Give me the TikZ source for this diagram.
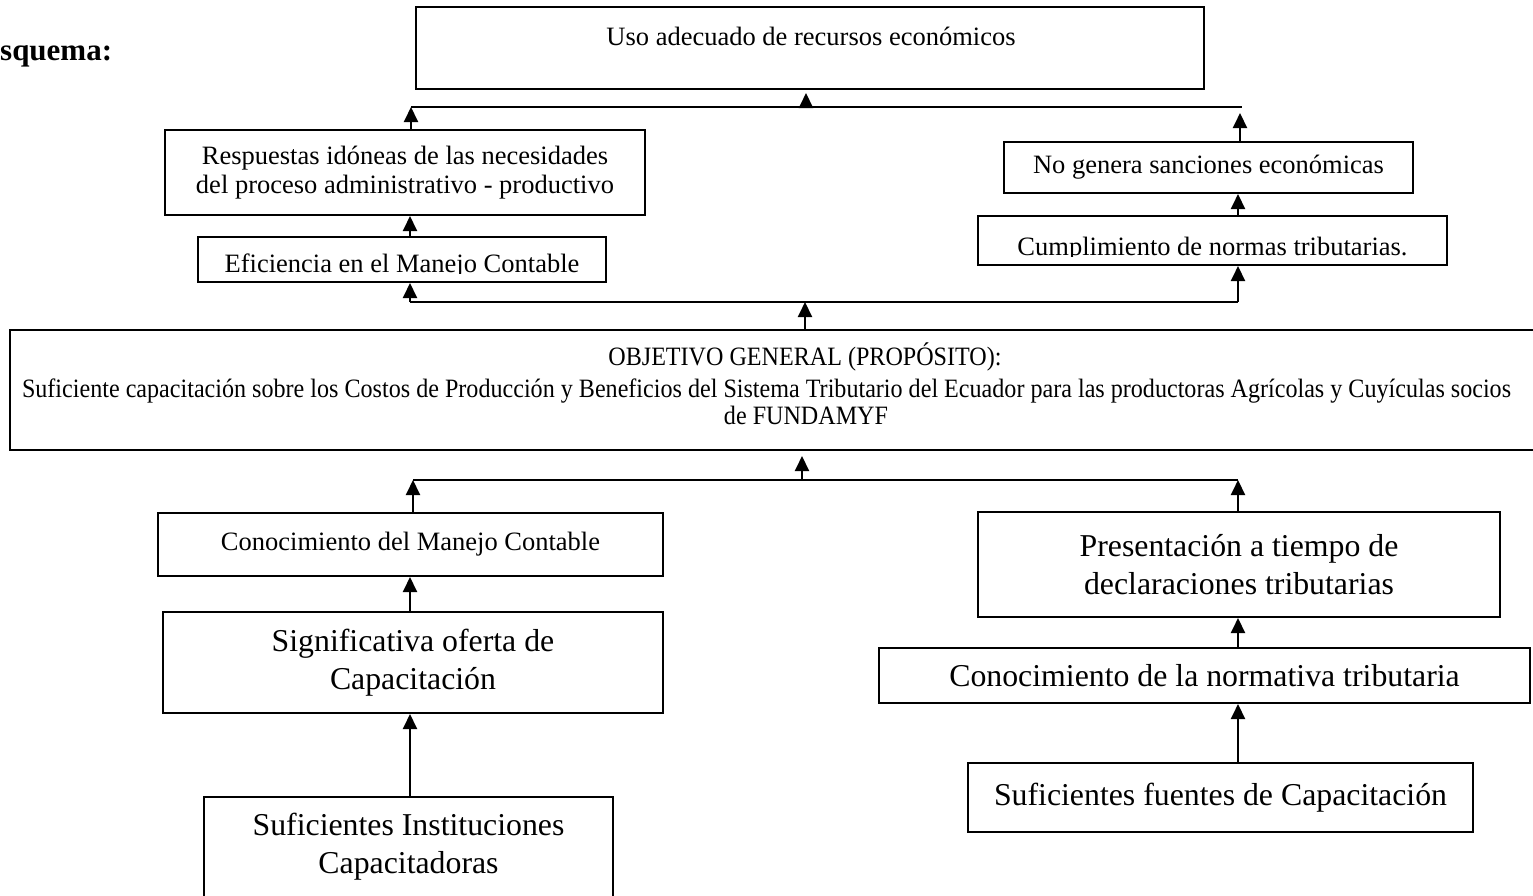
\documentclass[tikz,border=0pt]{standalone}
\usepackage{fontspec}
\usepackage{graphicx}
\setmainfont{Liberation Serif}
\usetikzlibrary{arrows.meta}
\newlength\objw
\newcommand\smallfnt{\fontsize{26.5pt}{29pt}\selectfont}
\newcommand\bigfnt{\fontsize{31.8pt}{38pt}\selectfont}
\newcommand\objline{Suficiente capacitación sobre los Costos de Producción y Beneficios del Sistema Tributario del Ecuador para las productoras Agrícolas y Cuyículas socios}
\tikzset{
  box/.style={draw, line width=2pt, inner sep=0pt, align=center},
  sbox/.style={box, font=\smallfnt},
  bbox/.style={box, font=\bigfnt},
  stxt/.style={inner sep=0pt, font=\smallfnt},
  arr/.style={line width=2pt, -{Triangle[length=15pt,width=14pt]}},
  conn/.style={line width=2pt},
}
\begin{document}
\settowidth{\objw}{\normalfont\smallfnt\objline}%
\pgfmathsetmacro\objf{1489/\objw}%
\begin{tikzpicture}[x=1pt,y=-1pt]
\useasboundingbox (0,0) rectangle (1533,895);
\clip (0,0) rectangle (1533,895);

\node[inner sep=0pt, anchor=base west, font=\fontsize{31pt}{35pt}\selectfont\bfseries] (esq) at (0,60) {squema:};

% top
\node[box, minimum width=788pt, minimum height=82pt] (uso) at (810,48) {};
\node[stxt, anchor=base] (usot) at (811,45) {Uso adecuado de recursos económicos};

\node[sbox, minimum width=480pt, minimum height=85pt] (resp) at (405,172.5) {Respuestas idóneas de las necesidades\\del proceso administrativo - productivo};
\node[sbox, minimum width=409pt, minimum height=51pt] (nosanc) at (1208.5,167.5) {No genera sanciones económicas};

\node[box, minimum width=408pt, minimum height=45pt,
  path picture={\clip (path picture bounding box.north west) rectangle ([yshift=9pt]path picture bounding box.south east);
    \node[stxt, anchor=base] at ([yshift=10pt]path picture bounding box.south) {Eficiencia en el Manejo Contable};}] (eff) at (402,259.5) {};
\node[box, minimum width=469pt, minimum height=49pt,
  path picture={\clip (path picture bounding box.north west) rectangle ([yshift=9pt]path picture bounding box.south east);
    \node[stxt, anchor=base] at ([yshift=10pt]path picture bounding box.south) {Cumplimiento de normas tributarias.};}] (cump) at (1212.5,240.5) {};

% objective
\node[box, minimum width=1550pt, minimum height=120pt] (obj) at (785,390) {};
\node[stxt, anchor=base] (objt1) at (805,365) {\scalebox{\objf}[1]{OBJETIVO GENERAL (PROPÓSITO):}};
\node[stxt, anchor=base] (objt2) at (766.5,397) {\scalebox{\objf}[1]{\objline}};
\node[stxt, anchor=base] (objt3) at (806,424) {\scalebox{\objf}[1]{de FUNDAMYF}};

% bottom
\node[sbox, minimum width=505pt, minimum height=63pt] (conoc) at (410.5,544.5) {Conocimiento del Manejo Contable};
\node[bbox, minimum width=500pt, minimum height=101pt] (sig) at (413,662.5) {Significativa oferta de\\Capacitación};
\node[bbox, minimum width=409pt, minimum height=100pt] (inst) at (408.5,847) {Suficientes Instituciones\\Capacitadoras};
\node[bbox, minimum width=522pt, minimum height=105pt] (pres) at (1239,564.5) {Presentación a tiempo de\\declaraciones tributarias};
\node[bbox, minimum width=651pt, minimum height=55pt] (normat) at (1204.5,675.5) {Conocimiento de la normativa tributaria};
\node[bbox, minimum width=505pt, minimum height=69pt] (fuentes) at (1220.5,797.5) {Suficientes fuentes de Capacitación};

% coordinates
\coordinate (xL) at (410,0);
\coordinate (xR) at (1238,0);
\coordinate (j1L) at (411,107);
\coordinate (j1C) at (806,107);
\coordinate (j1R) at (1242,107);
\coordinate (j1Rt) at (1240,113);
\coordinate (j2L) at (410,302);
\coordinate (j2C) at (805,302);
\coordinate (j2R) at (1238,302);
\coordinate (j3L) at (413,480);
\coordinate (j3C) at (802,480);
\coordinate (j3R) at (1238,480);

% top connectors
\draw[conn] (j1L) -- (j1R);
\draw[arr] (j1C) -- ([yshift=-3pt]uso.south -| j1C);
\draw[arr] (resp.north -| j1L) -- (j1L);
\draw[arr] (nosanc.north -| j1Rt) -- (j1Rt);
\draw[arr] (eff.north -| xL) -- (resp.south -| xL);
\draw[arr] (cump.north -| xR) -- (nosanc.south -| xR);

% middle connectors
\draw[conn] (j2L) -- (j2R);
\draw[arr] (j2L) -- (eff.south -| j2L);
\draw[arr] (j2R) -- (cump.south -| j2R);
\draw[arr] (obj.north -| j2C) -- (j2C);

% bottom connectors
\draw[conn] (j3L) -- (j3R);
\draw[arr] (j3C) -- ([yshift=-5pt]obj.south -| j3C);
\draw[arr] (conoc.north -| j3L) -- (j3L);
\draw[arr] (pres.north -| j3R) -- (j3R);
\draw[arr] (sig.north -| xL) -- (conoc.south -| xL);
\draw[arr] (inst.north -| xL) -- (sig.south -| xL);
\draw[arr] (normat.north -| xR) -- (pres.south -| xR);
\draw[arr] (fuentes.north -| xR) -- (normat.south -| xR);
\end{tikzpicture}
\end{document}
